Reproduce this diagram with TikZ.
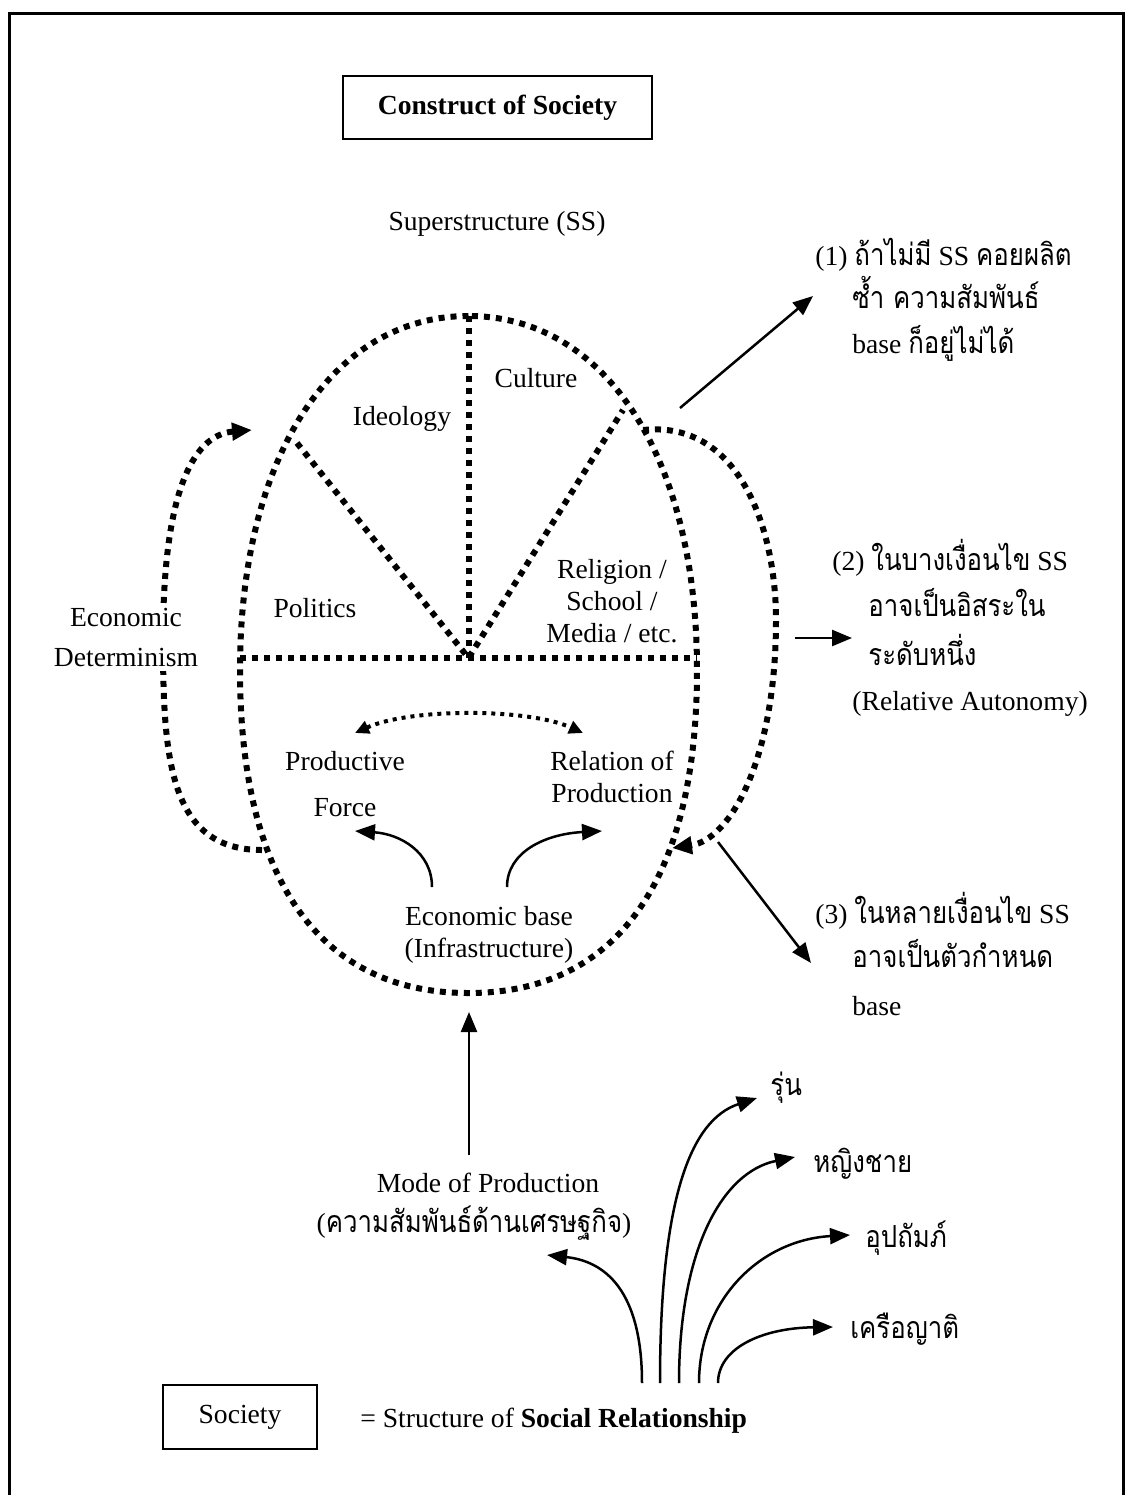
\documentclass[tikz,border=0pt]{standalone}
\usepackage{fontspec}
\setmainfont{Liberation Serif}
\newfontfamily\thai[Script=Thai,Scale=1.1,FakeStretch=0.85]{Loma}
\usetikzlibrary{arrows.meta}

\begin{document}
\begin{tikzpicture}[x=0.5pt,y=-0.5pt,
  font=\fontsize{13.8pt}{16.5pt}\selectfont,
  bigdots/.style={line width=3pt, dash pattern=on 3pt off 3pt},
  smalldots/.style={line width=2pt, dash pattern=on 2pt off 2.5pt},
  bigtip/.tip={Triangle[length=10pt,width=8.5pt]},
  smalltip/.tip={Triangle[length=7pt,width=6.5pt]},
  solidarrow/.style={line width=1.25pt, -{Triangle[length=10pt,width=8pt]}},
  txt/.style={inner sep=0pt, anchor=base},
  ltxt/.style={inner sep=0pt, anchor=base west},
  framed/.style={draw, line width=1pt, inner sep=0pt}]

\useasboundingbox (0,0) rectangle (1128,1495);

% page frame, open at the bottom
\draw[line width=1.5pt] (9,1500) -- (9,13) -- (1123,13) -- (1123,1500);

% titles
\node[framed, minimum width=154.5pt, minimum height=31.5pt, font=\fontsize{13.8pt}{16.5pt}\selectfont\bfseries]
  (title) at (497.5,107.5) {Construct of Society};
\node[txt] (ss) at (497,230) {Superstructure (SS)};

% the society oval
\coordinate (top) at (468.5,316);
\coordinate (ctr) at (468.5,658);
\coordinate (midL) at (240,658);
\coordinate (midR) at (697,658);
\coordinate (diagL) at (297,443);
\coordinate (diagR) at (623,410);
\draw[bigdots] (top) .. controls (331.4,316) and (240,457.6) .. (240,670)
  .. controls (240,880) and (320,993) .. (468.5,993)
  .. controls (617,993) and (697,880) .. (697,670)
  .. controls (697,457.6) and (605.6,316) .. cycle;
\draw[bigdots] (midL) -- (midR);
\draw[bigdots] (top) -- (ctr);
\draw[bigdots] (diagL) -- (ctr) -- (diagR);

% superstructure sectors
\node[txt] (culture) at (536,387) {Culture};
\node[txt] (ideology) at (402,425) {Ideology};
\node[txt] (politics) at (315,617) {Politics};
\node[txt] (rel1) at (612,578) {Religion /};
\node[txt] (rel2) at (612,610) {School /};
\node[txt] (rel3) at (612,642) {Media / etc.};

% economic base
\node[txt] (pf1) at (345,770) {Productive};
\node[txt] (pf2) at (345,816) {Force};
\node[txt] (rp1) at (612,770) {Relation of};
\node[txt] (rp2) at (612,802) {Production};
\node[txt] (eb1) at (489,925) {Economic base};
\node[txt] (eb2) at (489,957) {(Infrastructure)};

\coordinate (pfTip) at (355,733);
\coordinate (rpTip) at (583,733);
\draw[smalldots, {smalltip}-{smalltip}] (pfTip) .. controls (410,708) and (528,708) .. (rpTip);

\coordinate (ebL) at (432,887);
\coordinate (ebR) at (507,887);
\coordinate (forceTip) at (355,831);
\coordinate (prodTip) at (602,831);
\draw[solidarrow] (ebL) .. controls (432,852) and (400,834) .. (forceTip);
\draw[solidarrow] (ebR) .. controls (507,852) and (545,834) .. (prodTip);

% economic determinism loop
\coordinate (edStart) at (262,850);
\coordinate (edTip) at (252,430);
\draw[bigdots, -{bigtip}] (edStart) .. controls (170,850) and (163,760) .. (163,640)
  .. controls (163,500) and (190,435) .. (edTip);
\node[fill=white, inner sep=2pt, align=center, anchor=north] (ed) at (126,604)
  {Economic\\[3.5pt]Determinism};

% relative autonomy loop
\coordinate (raStart) at (643,430);
\coordinate (raTip) at (672,848);
\draw[bigdots, -{bigtip}] (raStart) .. controls (740,420) and (776,530) .. (776,620)
  .. controls (776,760) and (730,840) .. (raTip);

% notes on the right
\coordinate (a1s) at (680,408);
\coordinate (a1e) at (813,296);
\draw[solidarrow] (a1s) -- (a1e);
\node[ltxt] (n1a) at (815,265) {(1) {\thai ถ้าไม่มี} SS {\thai คอยผลิต}};
\node[ltxt] (n1b) at (852,308) {\thai ซ้ำ ความสัมพันธ์};
\node[ltxt] (n1c) at (852,353) {base {\thai ก็อยู่ไม่ได้}};

\coordinate (a2s) at (795,638);
\coordinate (a2e) at (852,638);
\draw[solidarrow] (a2s) -- (a2e);
\node[ltxt] (n2a) at (832,570) {(2) {\thai ในบางเงื่อนไข} SS};
\node[ltxt] (n2b) at (868,616) {\thai อาจเป็นอิสระใน};
\node[ltxt] (n2c) at (868,665) {\thai ระดับหนึ่ง};
\node[ltxt] (n2d) at (852,710) {(Relative Autonomy)};

\coordinate (a3s) at (718,842);
\coordinate (a3e) at (811,963);
\draw[solidarrow] (a3s) -- (a3e);
\node[ltxt] (n3a) at (815,923) {(3) {\thai ในหลายเงื่อนไข} SS};
\node[ltxt] (n3b) at (852,967) {\thai อาจเป็นตัวกำหนด};
\node[ltxt] (n3c) at (852,1015) {base};

% mode of production
\node[txt] (mop1) at (488,1192) {Mode of Production};
\node[txt] (mop2) at (474,1232) {({\thai ความสัมพันธ์ด้านเศรษฐกิจ})};
\coordinate (mopUp) at (469,1155);
\coordinate (ovalBot) at (469,1012);
\draw[solidarrow] (mopUp) -- (ovalBot);

% social relationships fanning out
\node[ltxt] (k1) at (770,1095) {\thai รุ่น};
\node[ltxt] (k2) at (813,1172) {\thai หญิงชาย};
\node[ltxt] (k3) at (865,1247) {\thai อุปถัมภ์};
\node[ltxt] (k4) at (850,1338) {\thai เครือญาติ};

\coordinate (f0) at (642,1383);
\coordinate (f1) at (660,1383);
\coordinate (f2) at (679,1383);
\coordinate (f3) at (699,1383);
\coordinate (f4) at (718,1383);
\coordinate (t0) at (547,1255);
\coordinate (t1) at (757,1098);
\coordinate (t2) at (795,1157);
\coordinate (t3) at (850,1235);
\coordinate (t4) at (833,1327);
\draw[solidarrow] (f0) .. controls (642,1300) and (612,1262) .. (t0);
\draw[solidarrow] (f1) .. controls (660,1200) and (690,1120) .. (t1);
\draw[solidarrow] (f2) .. controls (679,1250) and (722,1172) .. (t2);
\draw[solidarrow] (f3) .. controls (699,1300) and (760,1240) .. (t3);
\draw[solidarrow] (f4) .. controls (718,1348) and (762,1328) .. (t4);

% legend
\node[framed, minimum width=77pt, minimum height=32pt] (society) at (240,1417) {Society};
\node[ltxt] (eq) at (360,1427) {= Structure of \textbf{Social Relationship}};

\end{tikzpicture}
\end{document}
